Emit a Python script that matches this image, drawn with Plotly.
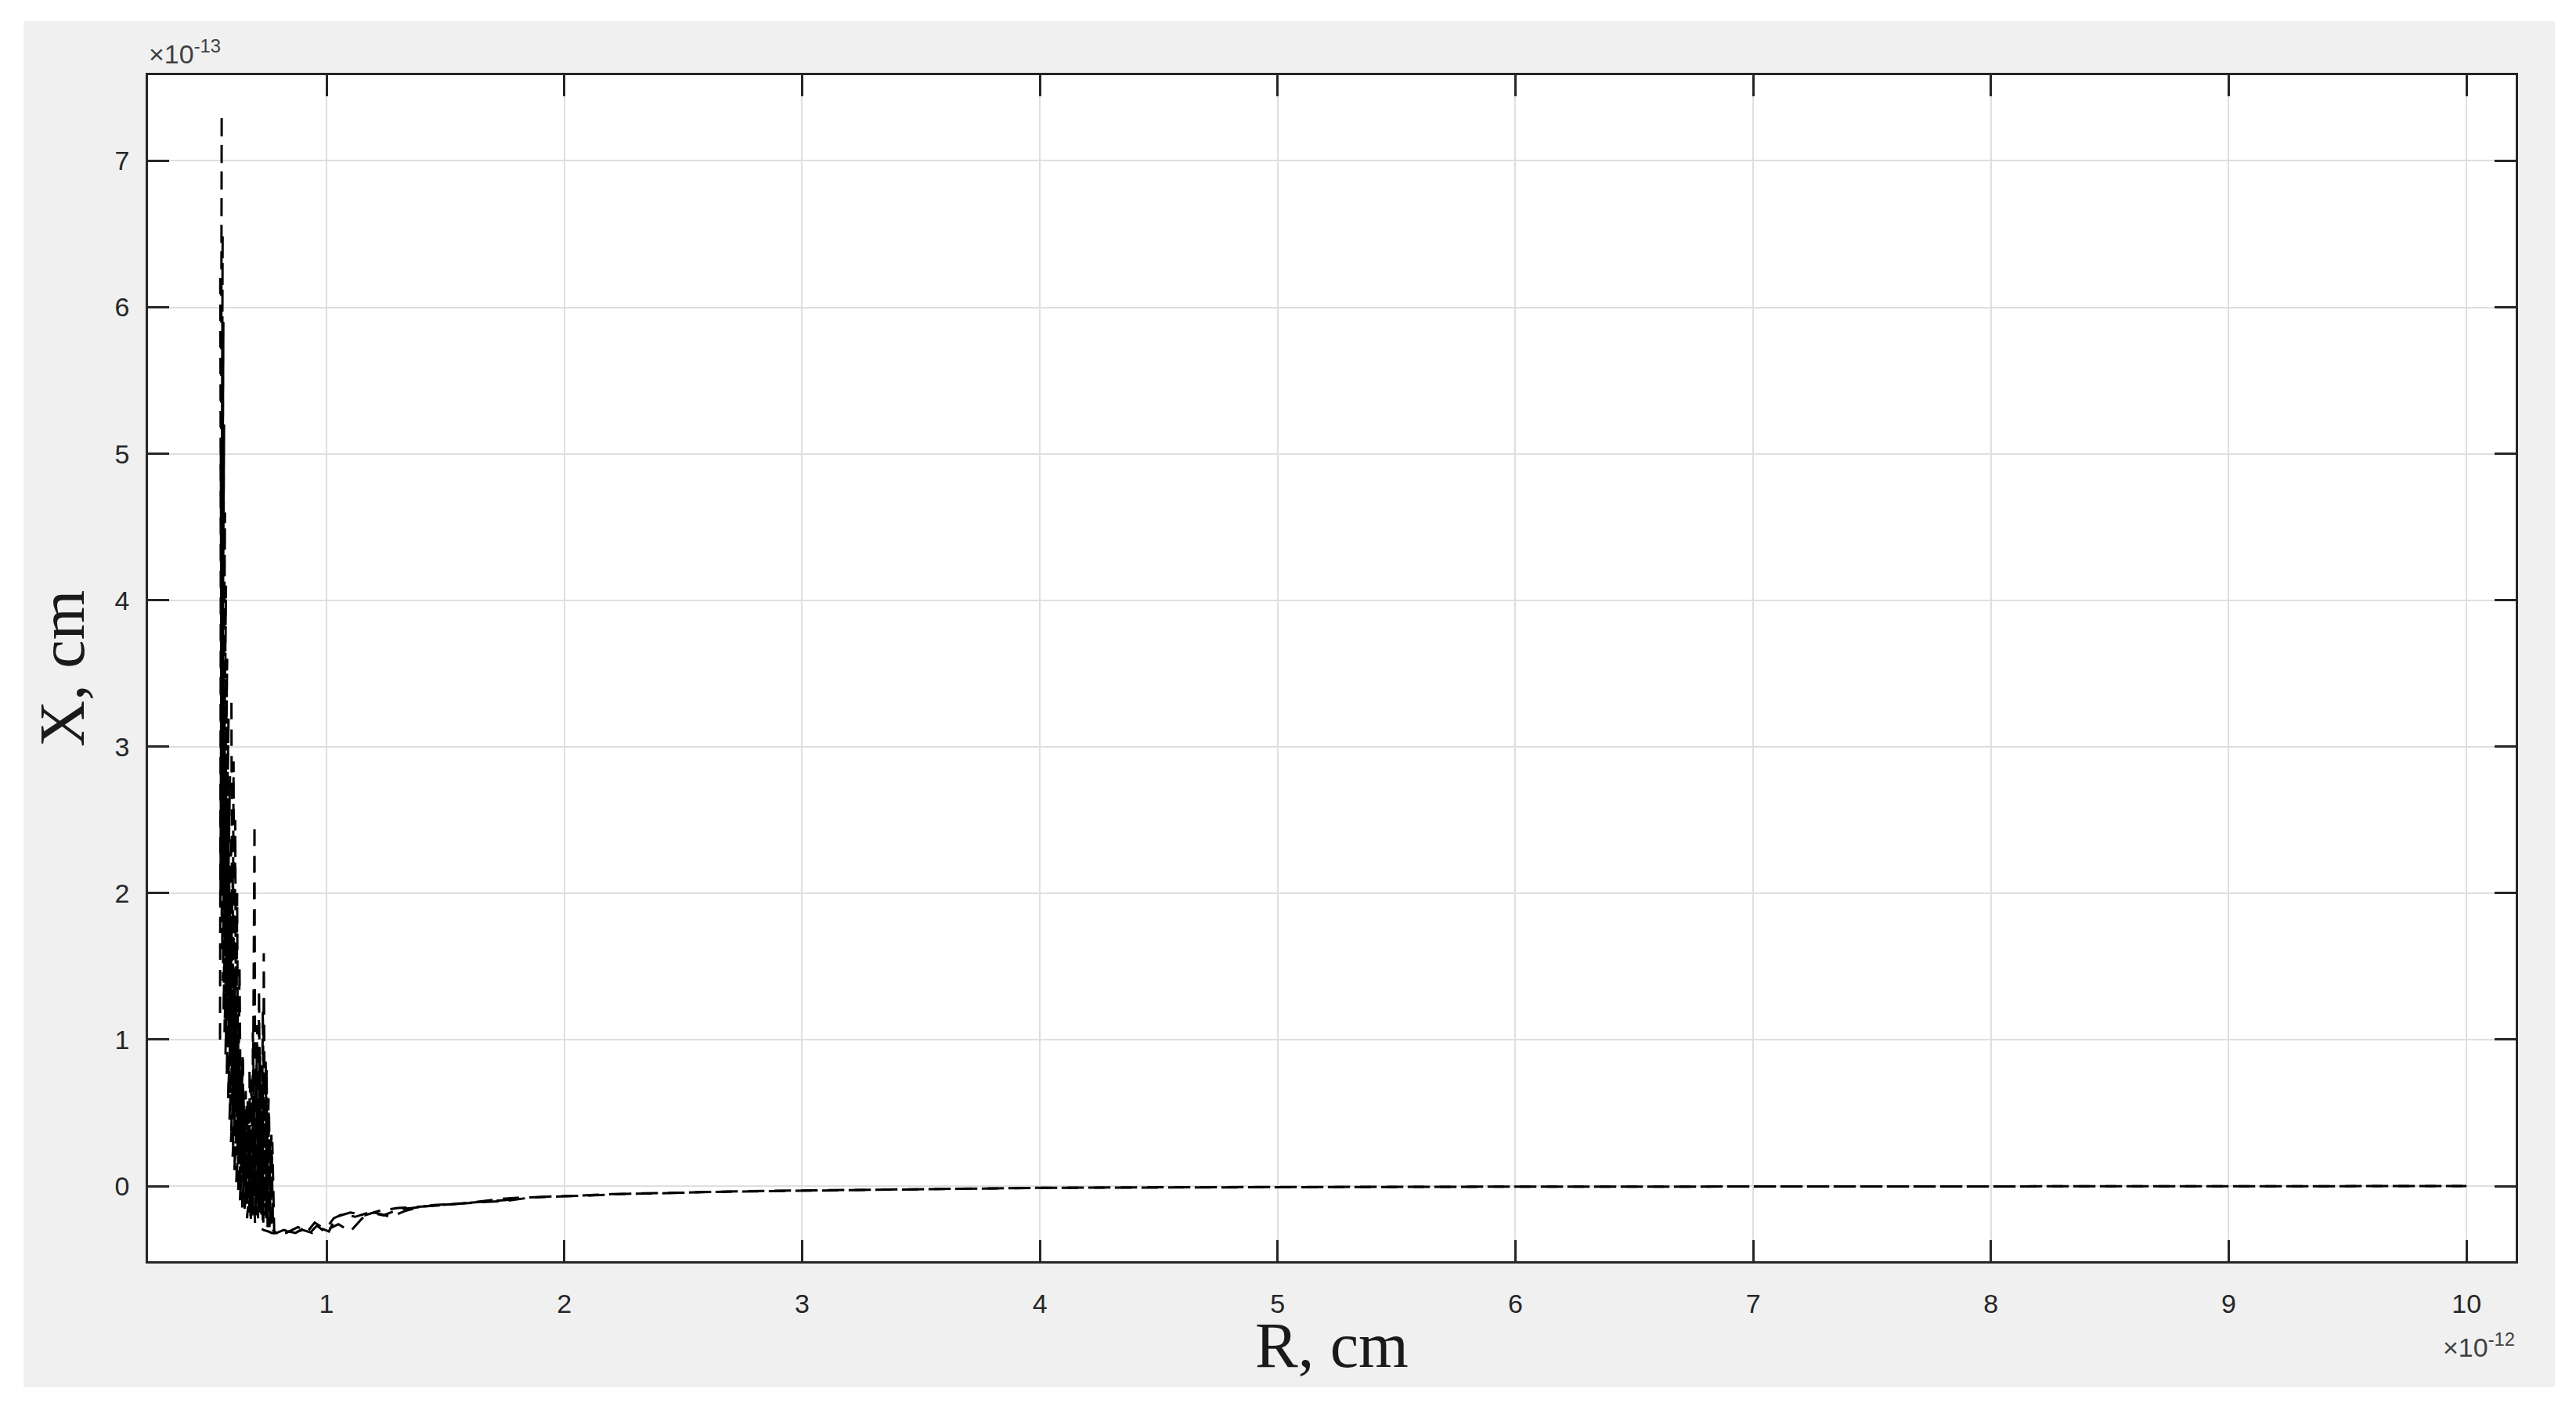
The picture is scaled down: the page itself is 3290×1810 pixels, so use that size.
import plotly.graph_objects as go

# values in units of 1e-12 cm (R) and 1e-13 cm (X)
r_a = [0.552, 0.559, 0.553, 0.561, 0.554, 0.563, 0.555, 0.566, 0.557, 0.569, 0.559, 0.573, 0.561, 0.577,
       0.564, 0.582, 0.567, 0.588, 0.571, 0.594, 0.575, 0.600, 0.580, 0.606, 0.586, 0.612, 0.592, 0.618,
       0.598, 0.624, 0.605, 0.630, 0.612, 0.636, 0.620, 0.642, 0.628, 0.648, 0.636, 0.655, 0.645, 0.662,
       0.655, 0.670, 0.666, 0.680, 0.680, 0.692, 0.700, 0.715, 0.735, 0.755, 0.770, 0.785,
       0.80, 0.84, 0.87, 0.90, 0.93, 0.96, 0.99, 1.03, 1.07, 1.12, 1.18, 1.24, 1.30, 1.36, 1.45, 1.55,
       1.65, 1.76, 1.85, 1.95, 2.1, 2.3, 2.5, 2.75, 3.0, 3.5, 4.0, 4.5, 5.0, 6.0, 7.0, 8.0, 9.0, 10.0]
x_a = [1.0, 7.32, 1.6, 7.05, 1.9, 6.5, 2.1, 5.9, 2.0, 5.2, 1.8, 4.6, 1.6, 4.1,
       1.4, 3.6, 1.2, 3.2, 1.05, 2.8, 0.9, 2.4, 0.75, 2.1, 0.6, 1.8, 0.45, 1.5,
       0.3, 1.25, 0.2, 1.05, 0.1, 0.85, 0.0, 0.7, -0.05, 0.55, -0.1, 0.42, -0.15, 0.3,
       -0.18, 0.2, -0.22, 0.1, -0.25, 0.0, -0.27, -0.28, -0.3, -0.31, -0.32, -0.32,
       -0.32, -0.31, -0.32, -0.29, -0.32, -0.27, -0.31, -0.22, -0.19, -0.21, -0.18, -0.20, -0.16, -0.15, -0.13, -0.12,
       -0.11, -0.10, -0.08, -0.07, -0.065, -0.05, -0.045, -0.035, -0.03, -0.02, -0.012, -0.008, -0.006, -0.004, -0.003, -0.002, -0.001, 0.0]

r_b = [0.556, 0.558, 0.557, 0.562, 0.560, 0.567, 0.564, 0.573, 0.570, 0.580, 0.577, 0.588, 0.585, 0.596,
       0.593, 0.604, 0.602, 0.612, 0.610, 0.620, 0.620, 0.628, 0.630, 0.636, 0.640, 0.648, 0.650, 0.658,
       0.662, 0.668, 0.675, 0.680, 0.688, 0.697, 0.700, 0.706, 0.712, 0.716, 0.722, 0.728, 0.734, 0.736,
       0.742, 0.748, 0.752, 0.758, 0.764, 0.772, 0.780,
       0.80, 0.83, 0.88, 0.92, 0.95, 1.00, 1.05, 1.10, 1.15, 1.20, 1.27, 1.33, 1.40, 1.50, 1.62, 1.72,
       1.80, 1.9, 2.0, 2.2, 2.4, 2.6, 2.9, 3.2, 3.6, 4.0, 5.0, 6.0, 7.0, 8.0, 9.0, 10.0]
x_b = [5.0, 2.6, 4.5, 2.2, 4.0, 1.9, 3.5, 1.6, 3.1, 1.3, 2.7, 1.05, 2.3, 0.85,
       1.95, 0.65, 1.6, 0.45, 1.3, 0.3, 1.0, 0.15, 0.75, 0.05, 0.5, 0.87, -0.05, 0.45,
       -0.12, 0.6, -0.18, 0.35, -0.2, 2.47, -0.15, 0.9, -0.22, 1.34, -0.18, 0.7, -0.25, 1.59,
       -0.2, 0.8, -0.28, 0.5, -0.26, 0.3, -0.32,
       -0.31, -0.32, -0.28, -0.31, -0.25, -0.30, -0.26, -0.31, -0.22, -0.18, -0.21, -0.17, -0.14, -0.13, -0.11, -0.09,
       -0.08, -0.075, -0.07, -0.055, -0.05, -0.04, -0.035, -0.028, -0.02, -0.012, -0.006, -0.004, -0.003, -0.002, -0.001, 0.0]

r_c = [0.600, 0.604, 0.609, 0.612, 0.616, 0.620, 0.624, 0.628, 0.634, 0.640, 0.647, 0.654, 0.660, 0.666,
       0.672, 0.678, 0.684, 0.690, 0.696, 0.702, 0.708, 0.714, 0.720, 0.726, 0.732, 0.738, 0.744, 0.750,
       0.756, 0.762, 0.768, 0.775, 0.780,
       0.79, 0.82, 0.86, 0.90, 0.94, 0.98, 1.01, 1.04, 1.10, 1.16, 1.22, 1.30, 1.40, 1.55, 1.70, 1.80]
x_c = [3.3, 0.9, 2.9, 0.7, 2.5, 0.5, 2.0, 0.35, 1.5, 0.2, 0.9, 0.1, 0.65, -0.05,
       0.5, -0.15, 0.75, -0.2, 0.55, -0.1, 1.1, -0.15, 0.9, -0.2, 1.2, -0.1, 0.85, -0.22,
       0.6, -0.25, 0.35, -0.3, -0.31,
       -0.32, -0.30, -0.32, -0.30, -0.32, -0.29, -0.31, -0.21, -0.18, -0.20, -0.17, -0.15, -0.14, -0.12, -0.10, -0.09]

r_d = [0.553, 0.556, 0.554, 0.558, 0.556, 0.561, 0.558, 0.565, 0.561, 0.570, 0.565, 0.576, 0.570, 0.583,
       0.576, 0.590, 0.583, 0.598, 0.590, 0.606, 0.598, 0.614, 0.607, 0.622, 0.616, 0.630, 0.626, 0.640,
       0.638, 0.652, 0.650, 0.664, 0.664, 0.678, 0.676, 0.690, 0.690, 0.704, 0.704, 0.718, 0.718, 0.732,
       0.732, 0.746, 0.746, 0.760, 0.762, 0.775]
x_d = [6.2, 3.4, 5.7, 3.0, 5.1, 2.7, 4.6, 2.4, 4.2, 2.1, 3.7, 1.8, 3.3, 1.5,
       2.9, 1.25, 2.5, 1.0, 2.1, 0.8, 1.8, 0.6, 1.5, 0.45, 1.2, 0.3, 1.0, 0.15,
       0.8, 0.0, 0.65, -0.1, 0.55, -0.15, 0.8, -0.12, 1.05, -0.2, 0.7, -0.18, 0.95, -0.25,
       0.75, -0.22, 0.55, -0.28, 0.3, -0.3]

r_ticks = [1, 2, 3, 4, 5, 6, 7, 8, 9, 10]
x_ticks = [0, 1, 2, 3, 4, 5, 6, 7]

# the page puts the figure 8 px in from the corner, so work in page pixels minus 8
OFF = 8
W, H = 3290 - OFF, 1810 - OFF
L, R, T, B = 189 - OFF, 3213 - OFF, 96 - OFF, 1611 - OFF   # plot area


def px(v):
    return (v - OFF - L) / (R - L)


def py(v):
    return (B - (v - OFF)) / (B - T)


fig = go.Figure()
for rr, xx in [(r_a, x_a), (r_b, x_b), (r_c, x_c), (r_d, x_d)]:
    fig.add_trace(go.Scatter(x=rr, y=xx, mode="lines",
                             line=dict(color="black", width=3, dash="21px,13px"),
                             showlegend=False, hoverinfo="skip"))

axcol = "#262626"
tickfont = dict(family="Liberation Sans, Arial", size=34, color=axcol)
common = dict(showline=True, linecolor=axcol, linewidth=2.7, mirror="ticks",
              ticks="inside", ticklen=27, tickwidth=2.5, tickcolor=axcol,
              showgrid=True, gridcolor="#dfdfdf", gridwidth=2, zeroline=False,
              tickfont=tickfont)
fig.update_xaxes(range=[0.249, 10.207], tickvals=r_ticks, ticklabelstandoff=22, **common)
fig.update_yaxes(range=[-0.513, 7.585], tickvals=x_ticks, ticklabelstandoff=14, **common)

# white frame round the grey figure area
white = dict(type="rect", xref="paper", yref="paper", fillcolor="white", line_width=0, layer="below")
fig.add_shape(x0=px(0), x1=px(30), y0=py(1820), y1=py(0), **white)
fig.add_shape(x0=px(3263), x1=px(3300), y0=py(1820), y1=py(0), **white)
fig.add_shape(x0=px(0), x1=px(3300), y0=py(27), y1=py(0), **white)
fig.add_shape(x0=px(0), x1=px(3300), y0=py(1820), y1=py(1772), **white)

expfont = dict(family="Liberation Sans, Arial", size=34, color="#404040")
fig.add_annotation(x=px(188), y=py(90), xref="paper", yref="paper", xanchor="left", yanchor="bottom",
                   text="×10<sup>-13</sup>", showarrow=False, font=expfont)
fig.add_annotation(x=px(3214), y=py(1742), xref="paper", yref="paper", xanchor="right", yanchor="bottom",
                   text="×10<sup>-12</sup>", showarrow=False, font=expfont)

titlefont = dict(family="Liberation Serif, Times New Roman", size=82, color="#1a1a1a")
fig.add_annotation(x=px(1701), y=py(1718), xref="paper", yref="paper", xanchor="center", yanchor="middle",
                   text="R, cm", showarrow=False, font=titlefont)
fig.add_annotation(x=px(80), y=py(854), xref="paper", yref="paper", xanchor="center", yanchor="middle",
                   text="X, cm", textangle=-90, showarrow=False, font=titlefont)

fig.update_layout(width=W, height=H, margin=dict(l=L, r=W - R, t=T, b=H - B),
                  paper_bgcolor="#f0f0f0", plot_bgcolor="white")

fig.write_html("out.html")
